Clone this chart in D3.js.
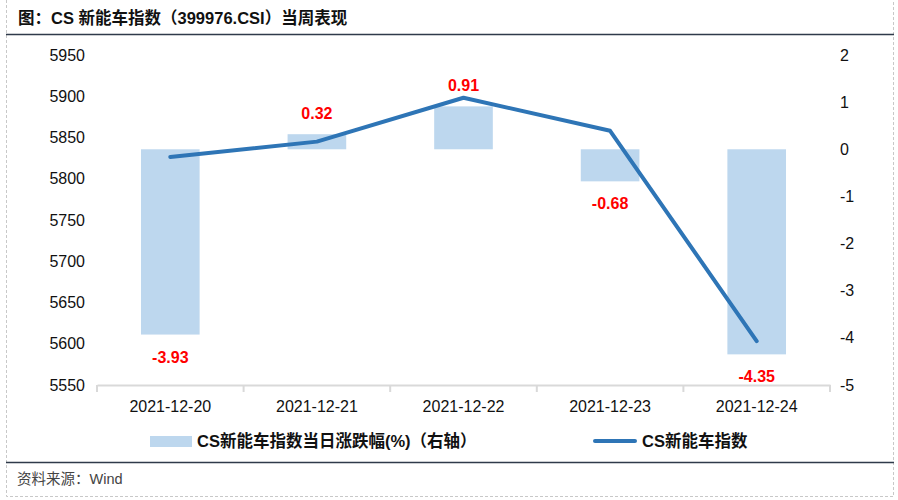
<!DOCTYPE html>
<html><head><meta charset="utf-8">
<script src="https://cdn.jsdelivr.net/npm/d3@7"></script>
<style>body{margin:0;background:#fff}svg{display:block;font-family:"Liberation Sans",Arial,"Noto Sans CJK SC",sans-serif}</style>
</head><body><svg id="c" width="898" height="500"></svg>
<script>
const dates = ["2021-12-20","2021-12-21","2021-12-22","2021-12-23","2021-12-24"];
const indexValues = [5826.4, 5845.0, 5898.2, 5858.1, 5603.3];
const pctChange = [-3.93, 0.32, 0.91, -0.68, -4.35];
const leftTicks = [5550,5600,5650,5700,5750,5800,5850,5900,5950];
const rightTicks = [-5,-4,-3,-2,-1,0,1,2];

const svg = d3.select("#c");
const ff = '"Liberation Sans",Arial,"Noto Sans CJK SC",sans-serif';
// frame
svg.append("rect").attr("x",6.5).attr("y",-1).attr("width",887).attr("height",497.5)
  .attr("fill","none").attr("stroke","#c8c8c8").attr("stroke-dasharray","3,2");
svg.append("text").attr("x",18).attr("y",24).attr("font-size",16.5).attr("font-weight","bold")
  .attr("fill","#111").text("图：CS 新能车指数（399976.CSI）当周表现");
svg.append("line").attr("x1",6).attr("x2",894).attr("y1",34.5).attr("y2",34.5).attr("stroke","#2f3a4a").attr("stroke-width",1.5);
svg.append("line").attr("x1",6).attr("x2",894).attr("y1",462.5).attr("y2",462.5).attr("stroke","#2f3a4a").attr("stroke-width",1.5);
svg.append("text").attr("x",17).attr("y",484).attr("font-size",14.5).attr("fill","#444").text("资料来源：Wind");

const x = d3.scaleBand().domain(dates).range([97,830]).paddingInner(0).paddingOuter(0);
const yL = d3.scaleLinear().domain([5550,5950]).range([385,55]);
const yR = d3.scaleLinear().domain([-5,2]).range([385,55]);

// bars
const bw = x.bandwidth()*0.4;
svg.selectAll("rect.bar").data(dates).join("rect").attr("class","bar")
  .attr("x",d=>x(d)+x.bandwidth()/2-bw/2)
  .attr("width",bw)
  .attr("y",(d,i)=>Math.min(yR(pctChange[i]),yR(0)))
  .attr("height",(d,i)=>Math.abs(yR(pctChange[i])-yR(0)))
  .attr("fill","#bdd7ee");

// x axis
const xa = svg.append("g").attr("transform","translate(0,385)")
  .call(d3.axisBottom(x).tickSize(0).tickPadding(16));
xa.select(".domain").attr("stroke","#d9d9d9").attr("stroke-width",2);
xa.selectAll("text").attr("font-size",16).attr("fill","#111").attr("font-family",ff);
const bounds = dates.map(d=>x(d)).concat([x.range()[1]]);
svg.selectAll("line.xt").data(bounds).join("line").attr("class","xt")
  .attr("x1",d=>d).attr("x2",d=>d).attr("y1",385).attr("y2",392).attr("stroke","#d9d9d9").attr("stroke-width",2);

// left axis
const la = svg.append("g").attr("transform","translate(85,0)")
  .call(d3.axisLeft(yL).tickValues(leftTicks).tickSize(0).tickPadding(0).tickFormat(d3.format("d")));
la.select(".domain").remove();
la.selectAll("text").attr("font-size",16).attr("fill","#111").attr("font-family",ff);

// right axis
const ra = svg.append("g").attr("transform","translate(840,0)")
  .call(d3.axisRight(yR).tickValues(rightTicks).tickSize(0).tickPadding(0).tickFormat(d=>d<0?"-"+Math.abs(d):d));
ra.select(".domain").remove();
ra.selectAll("text").attr("font-size",16).attr("fill","#111").attr("font-family",ff);

// line
const line = d3.line().x((d,i)=>x(dates[i])+x.bandwidth()/2).y(d=>yL(d));
svg.append("path").datum(indexValues).attr("d",line).attr("fill","none")
  .attr("stroke","#2e75b6").attr("stroke-width",4).attr("stroke-linecap","round").attr("stroke-linejoin","round");

// labels
svg.selectAll("text.lbl").data(pctChange).join("text").attr("class","lbl")
  .attr("x",(d,i)=>x(dates[i])+x.bandwidth()/2)
  .attr("y",d=>d>=0?yR(d)-15:yR(d)+28)
  .attr("text-anchor","middle").attr("font-size",16).attr("font-weight","bold").attr("fill","#ff0000")
  .text(d=>d.toFixed(2));

// legend
svg.append("rect").attr("x",150).attr("y",436).attr("width",42).attr("height",11).attr("fill","#bdd7ee");
svg.append("text").attr("x",197).attr("y",447).attr("font-size",16.5).attr("font-weight","bold").attr("fill","#111")
  .text("CS新能车指数当日涨跌幅(%)（右轴）");
svg.append("line").attr("x1",595).attr("x2",635).attr("y1",441).attr("y2",441).attr("stroke","#2e75b6").attr("stroke-width",4).attr("stroke-linecap","round");
svg.append("text").attr("x",642).attr("y",447).attr("font-size",16.5).attr("font-weight","bold").attr("fill","#111")
  .text("CS新能车指数");
</script></body></html>
